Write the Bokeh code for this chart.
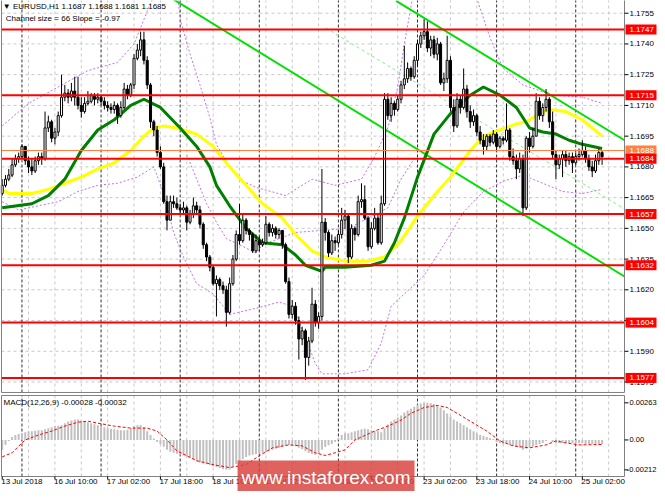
from bokeh.plotting import figure
from bokeh.models import Range1d, ColumnDataSource
from bokeh.layouts import column
from bokeh.core.properties import value
from bokeh.embed import file_html
from bokeh.resources import INLINE

# ---------------- data ----------------
first_open = 1.1667
close = [1.1671, 1.1674, 1.1676, 1.1681, 1.1684, 1.1685, 1.1690, 1.1683, 1.1680, 1.1678,
         1.1683, 1.1685, 1.1684, 1.1699, 1.1702, 1.1694, 1.1697, 1.1705, 1.1714, 1.1716,
         1.1714, 1.1717, 1.1714, 1.1710, 1.1707, 1.1711, 1.1712, 1.1715, 1.1713, 1.1714,
         1.1712, 1.1710, 1.1709, 1.1708, 1.1710, 1.1705, 1.1709, 1.1718, 1.1715, 1.1720,
         1.1733, 1.1737, 1.1742, 1.1732, 1.1720, 1.1702, 1.1698, 1.1687, 1.1680, 1.1663,
         1.1654, 1.1663, 1.1662, 1.1660, 1.1659, 1.1660, 1.1653, 1.1657, 1.1661, 1.1659,
         1.1652, 1.1642, 1.1636, 1.1631, 1.1623, 1.1625, 1.1622, 1.1620, 1.1609, 1.1623,
         1.1635, 1.1647, 1.1644, 1.1654, 1.1649, 1.1647, 1.1639, 1.1644, 1.1642, 1.1643,
         1.1652, 1.1648, 1.1650, 1.1647, 1.1649, 1.1642, 1.1624, 1.1608, 1.1612, 1.1605,
         1.1596, 1.1600, 1.1587, 1.1595, 1.1613, 1.1604, 1.1607, 1.1653, 1.1648, 1.1638,
         1.1644, 1.1643, 1.1647, 1.1654, 1.1656, 1.1636, 1.1650, 1.1647, 1.1663, 1.1664,
         1.1655, 1.1641, 1.1650, 1.1655, 1.1643, 1.1662, 1.1713, 1.1705, 1.1711, 1.1708,
         1.1713, 1.1720, 1.1723, 1.1728, 1.1724, 1.1732, 1.1740, 1.1744, 1.1746, 1.1738,
         1.1742, 1.1735, 1.1740, 1.1721, 1.1723, 1.1732, 1.1709, 1.1700, 1.1713, 1.1709,
         1.1718, 1.1707, 1.1702, 1.1705, 1.1697, 1.1693, 1.1690, 1.1695, 1.1692, 1.1696,
         1.1690, 1.1694, 1.1693, 1.1698, 1.1685, 1.1683, 1.1679, 1.1684, 1.1660, 1.1694,
         1.1690, 1.1695, 1.1712, 1.1705, 1.1709, 1.1713, 1.1702, 1.1686, 1.1681, 1.1684,
         1.1686, 1.1683, 1.1685, 1.1682, 1.1685, 1.1686, 1.1688, 1.1684, 1.1680, 1.1678,
         1.1683, 1.1687, 1.1685]
high = [1.1674, 1.1676, 1.1679, 1.1684, 1.1686, 1.1687, 1.1691, 1.1690, 1.1685, 1.1684,
        1.1685, 1.1687, 1.1687, 1.1707, 1.1705, 1.1703, 1.1699, 1.1707, 1.1725, 1.1720,
        1.1718, 1.1721, 1.1724, 1.1724, 1.1714, 1.1714, 1.1717, 1.1716, 1.1716, 1.1716,
        1.1715, 1.1714, 1.1712, 1.1711, 1.1712, 1.1711, 1.1712, 1.1721, 1.1720, 1.1721,
        1.1735, 1.1740, 1.1746, 1.1746, 1.1734, 1.1721, 1.1703, 1.1700, 1.1690, 1.1682,
        1.1666, 1.1666, 1.1666, 1.1665, 1.1662, 1.1663, 1.1661, 1.1659, 1.1665, 1.1663,
        1.1661, 1.1653, 1.1643, 1.1637, 1.1632, 1.1627, 1.1626, 1.1624, 1.1622, 1.1626,
        1.1637, 1.1649, 1.1662, 1.1657, 1.1655, 1.1650, 1.1648, 1.1647, 1.1646, 1.1645,
        1.1656, 1.1653, 1.1652, 1.1651, 1.1650, 1.1649, 1.1643, 1.1626, 1.1615, 1.1614,
        1.1607, 1.1602, 1.1601, 1.1597, 1.1621, 1.1615, 1.1609, 1.1679, 1.1655, 1.1649,
        1.1647, 1.1646, 1.1649, 1.1660, 1.1659, 1.1657, 1.1652, 1.1651, 1.1666, 1.1672,
        1.1671, 1.1656, 1.1653, 1.1660, 1.1657, 1.1666, 1.1716, 1.1716, 1.1714, 1.1712,
        1.1715, 1.1722, 1.1739, 1.1731, 1.1729, 1.1734, 1.1742, 1.1746, 1.1752, 1.1751,
        1.1744, 1.1744, 1.1743, 1.1741, 1.1726, 1.1744, 1.1734, 1.1713, 1.1716, 1.1715,
        1.1728, 1.1720, 1.1710, 1.1708, 1.1706, 1.1700, 1.1696, 1.1696, 1.1696, 1.1698,
        1.1697, 1.1695, 1.1695, 1.1711, 1.1699, 1.1689, 1.1686, 1.1687, 1.1686, 1.1695,
        1.1697, 1.1699, 1.1716, 1.1714, 1.1711, 1.1718, 1.1714, 1.1707, 1.1688, 1.1686,
        1.1688, 1.1688, 1.1687, 1.1687, 1.1687, 1.1689, 1.1693, 1.1690, 1.1686, 1.1683,
        1.1686, 1.1689, 1.1688]
low = [1.1666, 1.1670, 1.1673, 1.1675, 1.1680, 1.1682, 1.1684, 1.1681, 1.1677, 1.1676,
       1.1677, 1.1681, 1.1681, 1.1683, 1.1697, 1.1692, 1.1691, 1.1695, 1.1704, 1.1712,
       1.1711, 1.1712, 1.1710, 1.1708, 1.1704, 1.1706, 1.1710, 1.1711, 1.1710, 1.1711,
       1.1710, 1.1708, 1.1707, 1.1706, 1.1706, 1.1701, 1.1704, 1.1708, 1.1713, 1.1714,
       1.1718, 1.1732, 1.1734, 1.1730, 1.1718, 1.1699, 1.1695, 1.1685, 1.1679, 1.1662,
       1.1649, 1.1654, 1.1660, 1.1659, 1.1657, 1.1657, 1.1649, 1.1652, 1.1655, 1.1657,
       1.1650, 1.1640, 1.1634, 1.1629, 1.1622, 1.1607, 1.1620, 1.1618, 1.1602, 1.1608,
       1.1622, 1.1634, 1.1642, 1.1643, 1.1647, 1.1644, 1.1638, 1.1638, 1.1639, 1.1641,
       1.1642, 1.1646, 1.1646, 1.1645, 1.1645, 1.1640, 1.1623, 1.1606, 1.1606, 1.1603,
       1.1586, 1.1593, 1.1576, 1.1583, 1.1594, 1.1602, 1.1601, 1.1605, 1.1644, 1.1636,
       1.1637, 1.1639, 1.1642, 1.1645, 1.1650, 1.1633, 1.1635, 1.1644, 1.1646, 1.1660,
       1.1654, 1.1639, 1.1640, 1.1649, 1.1642, 1.1642, 1.1661, 1.1703, 1.1702, 1.1705,
       1.1707, 1.1711, 1.1718, 1.1721, 1.1722, 1.1723, 1.1729, 1.1738, 1.1742, 1.1736,
       1.1734, 1.1733, 1.1732, 1.1720, 1.1717, 1.1721, 1.1707, 1.1697, 1.1699, 1.1706,
       1.1708, 1.1704, 1.1699, 1.1700, 1.1695, 1.1691, 1.1686, 1.1688, 1.1690, 1.1691,
       1.1688, 1.1689, 1.1691, 1.1692, 1.1683, 1.1681, 1.1674, 1.1677, 1.1656, 1.1659,
       1.1687, 1.1689, 1.1695, 1.1703, 1.1702, 1.1707, 1.1699, 1.1684, 1.1674, 1.1679,
       1.1675, 1.1680, 1.1681, 1.1677, 1.1681, 1.1683, 1.1685, 1.1682, 1.1678, 1.1675,
       1.1677, 1.1681, 1.1681]

levels = [1.1747, 1.1715, 1.1684, 1.1657, 1.1632, 1.1604, 1.1577]
level_labels = ["1.1747", "1.1715", "1.1684", "1.1657", "1.1632", "1.1604", "1.1577"]
bid_level = 1.1688
bid_label = "1.1688"
price_ticks = [1.1755, 1.1740, 1.1725, 1.1710, 1.1695, 1.1680, 1.1665, 1.1650,
               1.1635, 1.1620, 1.1605, 1.1590, 1.1575]
price_tick_labels = ["1.1755", "1.1740", "1.1725", "1.1710", "1.1695", "1.1680", "1.1665",
                     "1.1650", "1.1635", "1.1620", "1.1605", "1.1590", "1.1575"]

ma_green_bar = [0, 9, 14, 19, 24, 29, 34, 39, 43, 48, 54, 59, 63, 65, 69, 74, 79, 85, 89, 92,
                97, 98, 104, 112, 116, 119, 122, 126, 131, 136, 142, 146, 151, 156, 160, 164,
                168, 172, 176, 182]
ma_green = [1.1660, 1.1662, 1.1666, 1.1674, 1.1688, 1.1698, 1.1703, 1.1710, 1.1713, 1.1709,
            1.1699, 1.1690, 1.1680, 1.1671, 1.1661, 1.1650, 1.1643, 1.1642, 1.1637, 1.1632,
            1.1629, 1.1631, 1.1631, 1.1632, 1.1634, 1.1643, 1.1655, 1.1675, 1.1696, 1.1706,
            1.1715, 1.1719, 1.1715, 1.1709, 1.1699, 1.1697, 1.1696, 1.1693, 1.1691, 1.1689]
ma_yellow_bar = [0, 2, 9, 14, 19, 24, 29, 34, 39, 43, 46, 49, 53, 59, 64, 69, 74, 79, 85, 89,
                 94, 98, 104, 111, 116, 121, 126, 131, 136, 142, 146, 151, 156, 159, 163, 166,
                 171, 176, 182]
ma_yellow = [1.1669, 1.1667, 1.1667, 1.1669, 1.1672, 1.1675, 1.1679, 1.1682, 1.1688, 1.1695,
             1.1699, 1.1700, 1.1699, 1.1696, 1.1690, 1.1680, 1.1671, 1.1662, 1.1655, 1.1647,
             1.1639, 1.1636, 1.1634, 1.1634, 1.1636, 1.1644, 1.1656, 1.1666, 1.1675, 1.1688,
             1.1695, 1.1698, 1.1701, 1.1702, 1.1706, 1.1708, 1.1707, 1.1703, 1.1695]

band_up_bar = [0, 8, 17, 26, 35, 40, 44, 47, 53, 54, 57, 60, 63, 65, 69, 73, 77, 86, 94, 101,
               109, 113, 117, 120, 122, 125, 143, 148, 152, 158, 167, 176, 182]
band_up = [1.1700, 1.1711, 1.1719, 1.1727, 1.1731, 1.1740, 1.1756, 1.1767, 1.1767, 1.1752,
           1.1735, 1.1720, 1.1704, 1.1691, 1.1680, 1.1673, 1.1670, 1.1666, 1.1674, 1.1671,
           1.1674, 1.1685, 1.1699, 1.1719, 1.1740, 1.1767, 1.1767, 1.1743, 1.1728, 1.1720,
           1.1715, 1.1714, 1.1711]
band_mid_bar = [56, 59, 62, 65, 68, 72, 77, 79, 89, 105, 117, 121, 125]
band_mid = [1.1686, 1.1674, 1.1662, 1.1653, 1.1645, 1.1642, 1.1638, 1.1642, 1.1648, 1.1650,
            1.1660, 1.1674, 1.1684]
band_lo_bar = [0, 5, 11, 17, 23, 29, 35, 41, 46, 49, 52, 55, 59, 64, 69, 77, 84, 88, 92, 95,
               97, 104, 111, 115, 118, 122, 128, 134, 140, 146, 152, 158, 164, 170, 176, 182]
band_lo = [1.1663, 1.1659, 1.1661, 1.1663, 1.1668, 1.1671, 1.1672, 1.1675, 1.1680, 1.1667,
           1.1648, 1.1636, 1.1623, 1.1618, 1.1608, 1.1611, 1.1614, 1.1612, 1.1597, 1.1584,
           1.1579, 1.1579, 1.1581, 1.1594, 1.1612, 1.1618, 1.1627, 1.1642, 1.1658, 1.1668,
           1.1673, 1.1676, 1.1672, 1.1668, 1.1667, 1.1669]

chan_lower_bar = [51.7, 188.8]
chan_lower = [1.1762, 1.16265]
chan_upper_bar = [119.5, 188.8]
chan_upper = [1.1761, 1.1693]
chan_mid_bar = [98.2, 188.8]
chan_mid = [1.17478, 1.16595]

macd = [-0.00069, -0.00035, -0.00007,
        0.00021, 0.00035, 0.00042, 0.00048,
        0.00055, 0.00062, 0.00062, 0.00065, 0.00069, 0.00069,
        0.00076, 0.00083, 0.00090, 0.00097, 0.00100, 0.00104,
        0.00118, 0.00131, 0.00138, 0.00145, 0.00145,
        0.00138, 0.00131, 0.00125, 0.00118, 0.00111,
        0.00104, 0.00097, 0.00090, 0.00083,
        0.00080, 0.00076, 0.00072, 0.00069, 0.00069, 0.00072,
        0.00083, 0.00097, 0.00104, 0.00104,
        0.00090, 0.00062, 0.00035, 0.00010,
        -0.00014,
        -0.00028, -0.00048, -0.00069, -0.00083, -0.00090,
        -0.00097, -0.00104, -0.00111, -0.00118, -0.00125, -0.00138, -0.00152,
        -0.00159, -0.00166, -0.00173, -0.00180, -0.00187, -0.00194, -0.00201, -0.00207, -0.00212, -0.00210,
        -0.00190, -0.00170, -0.00150, -0.00135, -0.00120, -0.00110, -0.00105, -0.00100,
        -0.00095, -0.00090, -0.00085,
        -0.00076, -0.00069, -0.00062, -0.00055, -0.00048, -0.00041, -0.00035, -0.00038, -0.00045, -0.00055,
        -0.00066, -0.00080, -0.00092, -0.00100, -0.00104, -0.00100,
        -0.00070, -0.00050, -0.00038, -0.00028, -0.00014,
        0.00010, 0.00035, 0.00048, 0.00048, 0.00055, 0.00062, 0.00069, 0.00076, 0.00080,
        0.00076, 0.00069, 0.00062, 0.00062, 0.00055, 0.00083,
        0.00110, 0.00131, 0.00145, 0.00159, 0.00173, 0.00194, 0.00208, 0.00221, 0.00235,
        0.00249, 0.00258, 0.00263, 0.00263, 0.00260, 0.00255, 0.00245, 0.00230, 0.00210,
        0.00187, 0.00166, 0.00145, 0.00131, 0.00118, 0.00104, 0.00090, 0.00076, 0.00062,
        0.00048, 0.00035, 0.00028, 0.00021, 0.00014, 0.00007,
        -0.00014, -0.00021, -0.00028, -0.00028, -0.00035, -0.00042, -0.00048, -0.00055, -0.00069,
        -0.00062, -0.00055, -0.00048, -0.00035, -0.00028, -0.00021, -0.00007, 0.0,
        -0.00014, -0.00021, -0.00021, -0.00021, -0.00021, -0.00021, -0.00021, -0.00021, -0.00021,
        -0.00021, -0.00028, -0.00028, -0.00028, -0.00028, -0.00028, -0.00028]
signal_bar = [0, 3, 6, 7, 11, 15, 19, 23, 26, 29, 34, 39, 44, 47, 50, 53, 59, 64, 69, 74, 78, 82,
              87, 91, 95, 98, 101, 104, 107, 113, 117, 121, 124, 128, 132, 135, 138, 142, 147,
              151, 155, 160, 165, 168, 171, 175, 182]
signal = [-0.00120, -0.00091, -0.00021, 0.0, 0.00035, 0.00063, 0.00098, 0.00126, 0.00133,
          0.00119, 0.00098, 0.00084, 0.00084, 0.00063, 0.0, -0.00077, -0.00147, -0.00175,
          -0.00196, -0.00175, -0.00112, -0.00056, -0.00035, -0.00042, -0.00091, -0.00110,
          -0.00091, -0.00070, 0.0, 0.00063, 0.00098, 0.00140, 0.00189, 0.00230, 0.00245,
          0.00230, 0.00189, 0.00133, 0.00063, -0.00007, -0.00042, -0.00056, -0.00035,
          -0.00007, -0.00021, -0.00035, -0.00032]
macd_ticks = [0.00263, 0.0, -0.00212]
macd_tick_labels = ["0.00263", "0.00", "-0.00212"]

time_ticks = [0, 16, 32, 48, 64, 80, 96, 112, 128, 144, 160, 176]
time_labels = ["13 Jul 2018", "16 Jul 10:00", "17 Jul 02:00", "17 Jul 18:00", "18 Jul 10:00",
               "19 Jul 02:00", "19 Jul 18:00", "20 Jul 10:00", "23 Jul 02:00", "23 Jul 18:00",
               "24 Jul 10:00", "25 Jul 02:00"]
day_starts = [6, 30, 54, 78, 102, 126, 150, 174]
grid_bars = [8, 16, 24, 32, 40, 48, 56, 64, 72, 80, 88, 96, 104, 112, 120, 128, 136, 144,
             152, 160, 168, 176, 184]

title_text = "\u25BC EURUSD,H1  1.1687 1.1688 1.1681 1.1685"
sub_text = "Channel size = 66 Slope = -0.97"
macd_text = "MACD(12,26,9) -0.00028 -0.00032"
watermark = "www.instaforex.com"

# ---------------- layout constants ----------------
FONT = value("Liberation Sans")
W = 657
XR = Range1d(-0.513, 198.81)          # whole canvas, bars
X_LEFT, X_AXIS = -0.21, 188.8          # plot area edges (bars)
TICK_END, LABEL_X = 190.0, 190.3
BOX_L, BOX_R = 189.1, 198.5
P_BOT, P_TOP = 1.15699, 1.17607        # price plot area
M_BOT, M_TOP = -0.00259, 0.00315       # macd plot area
GRID_COL = "#C8C8C8"
AX_COL = "#808080"
BAND_COL = "#C070F0"
BOX_H = 0.000244

n = len(close)
bars = list(range(n))
opens = [first_open] + close[:-1]
src = ColumnDataSource(dict(
    x=bars, h=high, l=low,
    top=[max(o, c) for o, c in zip(opens, close)],
    bottom=[min(o, c) for o, c in zip(opens, close)],
    fill=["white" if c >= o else "black" for o, c in zip(opens, close)],
))


def bare(height, yr):
    f = figure(width=W, height=height, x_range=XR, y_range=yr, title=None,
               output_backend="svg", toolbar_location=None, x_axis_location=None,
               y_axis_location=None, min_border_left=0, min_border_right=0,
               min_border_top=0, min_border_bottom=0)
    f.background_fill_color = "white"
    f.border_fill_color = "white"
    f.outline_line_color = None
    f.grid.visible = False
    return f


# ================= price panel =================
p = bare(393, Range1d(1.15694, 1.17612))

# grid
p.segment(x0=grid_bars, x1=grid_bars, y0=[P_BOT] * len(grid_bars), y1=[P_TOP + 0.0001] * len(grid_bars),
          line_color=GRID_COL, line_dash="3 3", line_width=1)
p.segment(x0=[X_LEFT] * len(price_ticks), x1=[X_AXIS] * len(price_ticks), y0=price_ticks,
          y1=price_ticks, line_color=GRID_COL, line_dash="3 3", line_width=1)
p.segment(x0=day_starts, x1=day_starts, y0=[P_BOT] * len(day_starts),
          y1=[P_TOP + 0.0001] * len(day_starts), line_color="#303030", line_dash="3 2", line_width=1)

# bands
p.line(band_up_bar, band_up, line_color=BAND_COL, line_dash="2 2", line_width=1)
p.line(band_mid_bar, band_mid, line_color=BAND_COL, line_dash="2 2", line_width=1)
p.line(band_lo_bar, band_lo, line_color=BAND_COL, line_dash="2 2", line_width=1)

# channel
p.line(chan_lower_bar, chan_lower, line_color="#00E000", line_width=2)
p.line(chan_upper_bar, chan_upper, line_color="#00E000", line_width=2)
p.line(chan_mid_bar, chan_mid, line_color="#80F080", line_width=1, line_dash="3 3")

# moving averages
p.line(ma_yellow_bar, ma_yellow, line_color="#FFFF00", line_width=3)
p.line(ma_green_bar, ma_green, line_color="#008000", line_width=3)

# candles
p.segment(x0="x", y0="l", x1="x", y1="h", source=src, line_color="black", line_width=1)
p.vbar(x="x", width=0.62, top="top", bottom="bottom", fill_color="fill",
       line_color="black", line_width=1, source=src)

# horizontal levels
p.segment(x0=[X_LEFT], x1=[X_AXIS], y0=[bid_level], y1=[bid_level], line_color="#FF8040", line_width=1)
p.segment(x0=[X_LEFT] * len(levels), x1=[X_AXIS] * len(levels), y0=levels, y1=levels,
          line_color="#FF0000", line_width=2)

# frame lines
p.segment(x0=[X_LEFT, X_AXIS, X_LEFT], x1=[X_LEFT, X_AXIS, X_AXIS],
          y0=[P_BOT, P_BOT, P_BOT], y1=[P_TOP + 0.0001, P_TOP + 0.0001, P_BOT],
          line_color=AX_COL, line_width=1)

# right price scale
p.segment(x0=[X_AXIS] * len(price_ticks), x1=[TICK_END] * len(price_ticks), y0=price_ticks,
          y1=price_ticks, line_color="black", line_width=1)
p.text(x=[LABEL_X] * len(price_ticks), y=price_ticks, text=price_tick_labels, text_font=FONT,
       text_font_size=value("8px"), text_color="black", text_baseline="middle", text_align="left")

# level boxes
p.quad(left=[BOX_L], right=[BOX_R], bottom=[bid_level - BOX_H], top=[bid_level + BOX_H],
       fill_color="#FF8040", line_color=None)
p.text(x=[LABEL_X], y=[bid_level], text=[bid_label], text_font=FONT, text_font_size=value("8px"),
       text_color="white", text_baseline="middle", text_align="left")
p.quad(left=[BOX_L] * len(levels), right=[BOX_R] * len(levels),
       bottom=[v - BOX_H for v in levels], top=[v + BOX_H for v in levels],
       fill_color="#FF0000", line_color=None)
p.text(x=[LABEL_X] * len(levels), y=levels, text=level_labels, text_font=FONT,
       text_font_size=value("8px"), text_color="white", text_baseline="middle", text_align="left")

# title texts
p.text(x=[0.2], y=[1.17583], text=[title_text], text_font=FONT, text_font_size=value("8px"),
       text_color="black", text_baseline="middle", text_align="left")
p.text(x=[1.1], y=[1.17524], text=[sub_text], text_font=FONT, text_font_size=value("8px"),
       text_color="black", text_baseline="middle", text_align="left")

# ================= MACD panel =================
m = bare(98, Range1d(-0.003653, 0.003292))
m.segment(x0=grid_bars, x1=grid_bars, y0=[M_BOT] * len(grid_bars), y1=[M_TOP] * len(grid_bars),
          line_color=GRID_COL, line_dash="3 3", line_width=1)
m.segment(x0=day_starts, x1=day_starts, y0=[M_BOT] * len(day_starts), y1=[M_TOP] * len(day_starts),
          line_color="#303030", line_dash="3 2", line_width=1)
m.vbar(x=bars, top=macd, bottom=0, width=0.6, fill_color="#C0C0C0", line_color=None)
m.line(signal_bar, signal, line_color="#FF0000", line_dash="3 2", line_width=1)

m.segment(x0=[X_LEFT, X_AXIS, X_LEFT, X_LEFT], x1=[X_LEFT, X_AXIS, X_AXIS, X_AXIS],
          y0=[M_BOT, M_BOT, M_BOT, M_TOP], y1=[M_TOP, M_TOP, M_BOT, M_TOP],
          line_color=AX_COL, line_width=1)
m.segment(x0=[X_AXIS] * 3, x1=[TICK_END] * 3, y0=macd_ticks, y1=macd_ticks,
          line_color="black", line_width=1)
m.text(x=[LABEL_X, LABEL_X, 189.5], y=macd_ticks, text=macd_tick_labels, text_font=FONT,
       text_font_size=value("7.5px"), text_color="black", text_baseline="middle", text_align="left")

# time scale
m.segment(x0=time_ticks, x1=time_ticks, y0=[M_BOT] * len(time_ticks),
          y1=[M_BOT - 0.00021] * len(time_ticks), line_color="black", line_width=1)
m.text(x=[t - 0.3 for t in time_ticks], y=[-0.002944] * len(time_ticks), text=time_labels,
       text_font=FONT, text_font_size=value("8px"), text_color="black",
       text_baseline="middle", text_align="left")

m.text(x=[0.4], y=[0.00263], text=[macd_text], text_font=FONT, text_font_size=value("8px"),
       text_color="black", text_baseline="middle", text_align="left")

# watermark
m.quad(left=[71.4], right=[125.1], bottom=[-0.0037], top=[-0.001456],
       fill_color="#D9403A", fill_alpha=0.82, line_color=None)
m.text(x=[98.25], y=[-0.00266], text=[watermark], text_font=FONT, text_font_size=value("19px"),
       text_color="white", text_baseline="middle", text_align="center")

layout = column(p, m, spacing=0)
open("out.html", "w").write(file_html(layout, INLINE))
